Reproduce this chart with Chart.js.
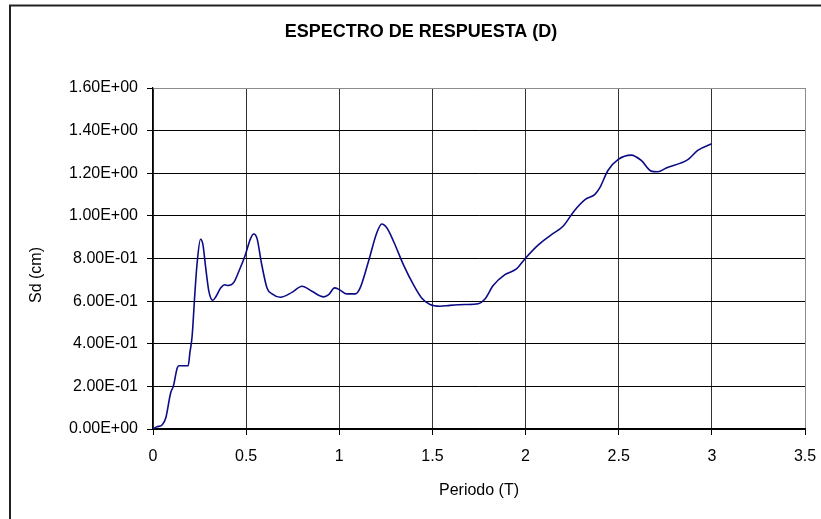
<!DOCTYPE html>
<html>
<head>
<meta charset="utf-8">
<script src="https://cdn.jsdelivr.net/npm/chart.js@4/dist/chart.umd.min.js"></script>
<style>
  html, body { margin: 0; padding: 0; background: #fff; }
  #wrap { width: 821px; height: 519px; }
</style>
</head>
<body>
<div id="wrap"><canvas id="spectrumChart" width="821" height="519"></canvas></div>
<script>
// Periodo (T) values
const periods = [0, 0.02, 0.05, 0.068, 0.095, 0.109, 0.13, 0.139, 0.165, 0.189,
  0.198, 0.21, 0.225, 0.237, 0.255, 0.268, 0.282, 0.3, 0.321, 0.339,
  0.363, 0.386, 0.403, 0.434, 0.461, 0.496, 0.523, 0.541, 0.559, 0.582,
  0.612, 0.639, 0.684, 0.746, 0.8, 0.853, 0.916, 0.943, 0.975, 1.0,
  1.041, 1.086, 1.112, 1.157, 1.201, 1.228, 1.255, 1.291, 1.344, 1.398,
  1.442, 1.487, 1.541, 1.594, 1.675, 1.746, 1.782, 1.826, 1.889, 1.951,
  1.996, 2.07, 2.139, 2.201, 2.26, 2.321, 2.371, 2.398, 2.442, 2.496,
  2.567, 2.621, 2.674, 2.71, 2.755, 2.871, 2.924, 3.0];

// Sd (cm) values
const sdValues = [0, 0.01, 0.02, 0.05, 0.17, 0.2, 0.286, 0.297, 0.297, 0.297,
  0.357, 0.435, 0.64, 0.78, 0.89, 0.865, 0.763, 0.646, 0.604, 0.623,
  0.662, 0.677, 0.673, 0.688, 0.74, 0.818, 0.892, 0.915, 0.892, 0.779,
  0.662, 0.634, 0.618, 0.641, 0.67, 0.646, 0.62, 0.63, 0.662, 0.654,
  0.634, 0.634, 0.662, 0.787, 0.92, 0.962, 0.944, 0.881, 0.771, 0.677,
  0.615, 0.584, 0.576, 0.58, 0.584, 0.588, 0.61, 0.673, 0.724, 0.751,
  0.798, 0.865, 0.912, 0.951, 1.022, 1.077, 1.1, 1.131, 1.213, 1.264,
  1.285, 1.26, 1.21, 1.207, 1.225, 1.264, 1.307, 1.338];

// axis ticks
const xTicks = [0, 0.5, 1, 1.5, 2, 2.5, 3, 3.5];
const yTicks = [0, 0.2, 0.4, 0.6, 0.8, 1.0, 1.2, 1.4, 1.6];

const chartTitle = 'ESPECTRO DE RESPUESTA (D)';
const yTitle = 'Sd (cm)';
const fontFamily = '"Liberation Sans", Arial, sans-serif';

function sci(v) {
  const parts = v.toExponential(2).toUpperCase().split('E');
  let exp = parseInt(parts[1], 10);
  const sign = exp < 0 ? '-' : '+';
  exp = Math.abs(exp);
  return parts[0] + 'E' + sign + (exp < 10 ? '0' + exp : exp);
}

// white background, outer frame, title and y axis title
const frame = {
  id: 'frame',
  beforeDraw(chart) {
    const ctx = chart.ctx;
    ctx.save();
    ctx.fillStyle = '#fff';
    ctx.fillRect(0, 0, chart.width, chart.height);
    ctx.restore();
  },
  afterDraw(chart) {
    const ctx = chart.ctx;
    ctx.save();
    ctx.strokeStyle = '#222';
    ctx.lineWidth = 2;
    ctx.strokeRect(10, 5.5, 840, 540);
    ctx.fillStyle = '#000';
    ctx.font = 'bold 18px ' + fontFamily;
    ctx.textAlign = 'center';
    ctx.textBaseline = 'middle';
    ctx.fillText(chartTitle, 421, 32);
    ctx.font = '16px ' + fontFamily;
    ctx.translate(37, 275);
    ctx.rotate(-Math.PI / 2);
    ctx.fillText(yTitle, 0, 0);
    ctx.restore();
  }
};

const spectrumCtx = document.getElementById('spectrumChart').getContext('2d');
const spectrumChart = new Chart(spectrumCtx, {
  type: 'line',
  data: {
    datasets: [{
      label: 'Sd',
      data: periods.map((t, i) => ({ x: t, y: sdValues[i] })),
      borderColor: '#0c0c86',
      borderWidth: 1.6,
      pointRadius: 0,
      fill: false,
      cubicInterpolationMode: 'monotone'
    }]
  },
  options: {
    responsive: false,
    animation: false,
    layout: { padding: { left: 0, top: 88, right: 16, bottom: 0 } },
    plugins: {
      legend: { display: false },
      tooltip: { enabled: false }
    },
    scales: {
      x: {
        type: 'linear',
        min: 0,
        max: 3.5,
        afterFit(scale) {
          scale.height = 90;
          scale.paddingLeft = 0;
          scale.paddingRight = 0;
        },
        afterBuildTicks(scale) { scale.ticks = xTicks.map(v => ({ value: v })); },
        ticks: {
          color: '#000',
          padding: 12,
          maxRotation: 0,
          font: { family: fontFamily, size: 16 },
          callback: v => String(v)
        },
        grid: {
          color: ctx => ctx.tick && ctx.tick.value === 3.5 ? '#8c8c8c' : '#333',
          lineWidth: 1,
          tickLength: 6,
          tickColor: '#000'
        },
        border: { color: '#000', width: 1.2 },
        title: {
          display: true,
          text: 'Periodo (T)',
          color: '#000',
          font: { family: fontFamily, size: 16 },
          padding: { top: 19, bottom: 19 }
        }
      },
      y: {
        min: 0,
        max: 1.6,
        afterFit(scale) {
          scale.width = 153;
          scale.paddingTop = 0;
          scale.paddingBottom = 0;
        },
        afterBuildTicks(scale) { scale.ticks = yTicks.map(v => ({ value: v })); },
        ticks: {
          color: '#000',
          padding: 9,
          font: { family: fontFamily, size: 16 },
          callback: v => sci(v)
        },
        grid: {
          color: ctx => ctx.tick && ctx.tick.value === 1.6 ? '#8c8c8c' : '#000',
          lineWidth: 1,
          tickLength: 6,
          tickColor: '#000'
        },
        border: { color: '#000', width: 1.2 }
      }
    }
  },
  plugins: [frame]
});
</script>
</body>
</html>
